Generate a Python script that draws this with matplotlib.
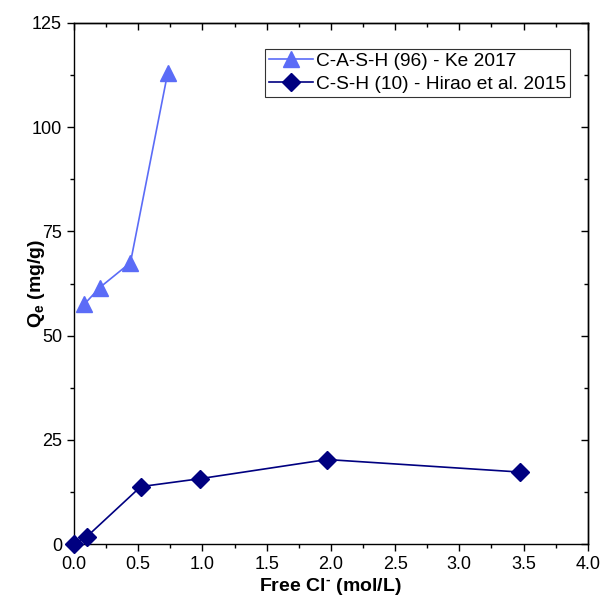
import matplotlib
matplotlib.use("Agg")
import matplotlib.pyplot as plt
from matplotlib.ticker import MultipleLocator, NullFormatter

# ── Data ───────────────────────────────────────────────────────────────────────
cash_x = [0.08, 0.20, 0.44, 0.73]
cash_y = [57.5, 61.5, 67.5, 113.0]
cash_label = "C-A-S-H (96) - Ke 2017"

csh_x = [0.0, 0.10, 0.52, 0.98, 1.97, 3.47]
csh_y = [0.0, 1.8, 13.8, 15.7, 20.3, 17.3]
csh_label = "C-S-H (10) - Hirao et al. 2015"

plt.rcParams["font.family"] = ["Liberation Sans", "DejaVu Sans"]
plt.rcParams["mathtext.fontset"] = "custom"
plt.rcParams["mathtext.rm"] = "Liberation Sans:bold"
plt.rcParams["mathtext.it"] = "Liberation Sans:bold"
plt.rcParams["mathtext.bf"] = "Liberation Sans:bold"

fig = plt.figure(figsize=(6.01, 6.0), dpi=100)
ax = fig.add_axes([0.123, 0.093, 0.855, 0.869])

ax.plot(cash_x, cash_y, color="#5b6cf7", lw=1.2, marker="^", ms=12,
        label=cash_label, clip_on=False, zorder=3)
ax.plot(csh_x, csh_y, color="#000080", lw=1.2, marker="D", ms=9,
        label=csh_label, clip_on=False, zorder=3)

ax.set_xlim(0, 4.0)
ax.set_ylim(0, 125)
ax.xaxis.set_major_locator(MultipleLocator(0.5))
ax.xaxis.set_minor_locator(MultipleLocator(0.25))
ax.yaxis.set_major_locator(MultipleLocator(25))
ax.yaxis.set_minor_locator(MultipleLocator(12.5))
ax.xaxis.set_major_formatter(plt.FormatStrFormatter("%.1f"))

# left / bottom ticks point out
ax.tick_params(which="both", direction="out", labelsize=13, width=1)
ax.tick_params(which="major", length=5)
ax.tick_params(which="minor", length=3)
for s in ax.spines.values():
    s.set_linewidth(1.0)

# top / right ticks point in, no labels
top = ax.secondary_xaxis("top")
top.xaxis.set_major_locator(MultipleLocator(0.5))
top.xaxis.set_minor_locator(MultipleLocator(0.25))
top.xaxis.set_major_formatter(NullFormatter())
top.tick_params(which="both", direction="in", width=1)
top.tick_params(which="major", length=5)
top.tick_params(which="minor", length=3)
top.spines["top"].set_linewidth(1.0)

right = ax.secondary_yaxis("right")
right.yaxis.set_major_locator(MultipleLocator(25))
right.yaxis.set_minor_locator(MultipleLocator(12.5))
right.yaxis.set_major_formatter(NullFormatter())
right.tick_params(which="both", direction="in", width=1)
right.tick_params(which="major", length=5)
right.tick_params(which="minor", length=3)
right.spines["right"].set_linewidth(1.0)

ax.set_xlabel("Free Cl$^{\\mathbf{\u2010}}$ (mol/L)", fontsize=14, fontweight="bold",
              labelpad=2)
ax.set_ylabel("$Q_e$ (mg/g)", fontsize=14, fontweight="bold")
ax.yaxis.set_label_coords(-0.052, 0.5)

leg = ax.legend(loc="upper right", bbox_to_anchor=(0.972, 0.958), fontsize=13.8,
                frameon=True, fancybox=False, edgecolor="black",
                handlelength=2.3, handletextpad=0.15, borderpad=0.2,
                borderaxespad=0.2, labelspacing=0.3)
leg.get_frame().set_linewidth(0.8)

plt.savefig("out.png", dpi=100)
